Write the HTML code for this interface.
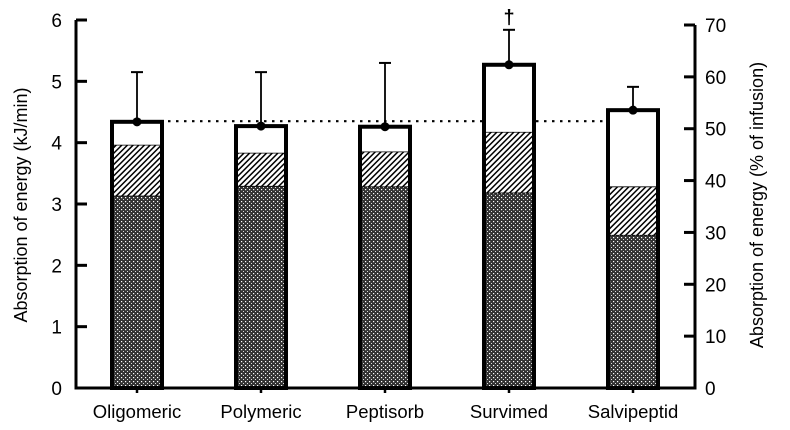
<!DOCTYPE html>
<html><head><meta charset="utf-8"><style>
html,body{margin:0;padding:0;background:#fff;}
svg{display:block;font-family:"Liberation Sans",Arial,sans-serif;}
</style></head><body>
<svg id="chart" width="790" height="430" viewBox="0 0 790 430" xmlns="http://www.w3.org/2000/svg">
<defs>
<pattern id="hatch" patternUnits="userSpaceOnUse" width="4" height="4" patternTransform="rotate(45)">
<rect width="4" height="4" fill="#fff"/><rect x="0" y="0" width="1.5" height="4" fill="#000"/>
</pattern>
<pattern id="cross" patternUnits="userSpaceOnUse" width="4" height="4">
<rect width="4" height="4" fill="#333"/><rect x="1" y="1" width="1.2" height="1.2" fill="#fff"/><rect x="3" y="3" width="1" height="1" fill="#ddd"/>
</pattern>
</defs>
<g id="marks"></g>
</svg>
<script>
const categories = ["Oligomeric","Polymeric","Peptisorb","Survimed","Salvipeptid"];
const totalValues = [4.34, 4.27, 4.26, 5.27, 4.53];
const hatchValues = [3.96, 3.83, 3.85, 4.17, 3.28];
const crossValues = [3.13, 3.29, 3.28, 3.18, 2.49];
const errorTops = [5.15, 5.15, 5.30, 5.84, 4.91];
const referenceLine = 4.35;
const leftTicks = [0,1,2,3,4,5,6];
const rightTicks = [0,10,20,30,40,50,60,70];
const daggerIndex = 3;

const NS = "http://www.w3.org/2000/svg";
const g = document.getElementById("marks");
const y0 = 388, yTop = 20, leftMax = 6;
const yR0 = 388, yRTop = 25, rightMax = 70;
const xL = 76, xR = 695;
const firstCenter = 137, step = 124, barW = 50;
function y(v){ return y0 - v*(y0-yTop)/leftMax; }
function yr(v){ return yR0 - v*(yR0-yRTop)/rightMax; }
function xc(i){ return firstCenter + i*step; }
function el(tag, attrs, parent){
  const e = document.createElementNS(NS, tag);
  for (const k in attrs) e.setAttribute(k, attrs[k]);
  (parent||g).appendChild(e);
  return e;
}

const ref = el("line",{x1:xc(0)-barW/2, x2:xc(4)+barW/2-18, y1:y(referenceLine), y2:y(referenceLine), stroke:"#000","stroke-width":2.2,"stroke-dasharray":"2.5,5.5"});



categories.forEach((c,i)=>{
  const x = xc(i)-barW/2;
  const grp = el("g",{});
  
  
  el("rect",{x:x,y:y(totalValues[i]),width:barW,height:y0-y(totalValues[i]),fill:"#fff"},grp);
  el("rect",{x:x,y:y(hatchValues[i]),width:barW,height:y(crossValues[i])-y(hatchValues[i]),fill:"url(#hatch)"},grp);
  el("rect",{x:x,y:y(crossValues[i]),width:barW,height:y0-y(crossValues[i]),fill:"url(#cross)"},grp);
  el("line",{x1:x,x2:x+barW,y1:y(hatchValues[i]),y2:y(hatchValues[i]),stroke:"#000","stroke-width":0.8},grp);
  el("line",{x1:x,x2:x+barW,y1:y(crossValues[i]),y2:y(crossValues[i]),stroke:"#000","stroke-width":0.8},grp);
  el("rect",{x:x,y:y(totalValues[i]),width:barW,height:y0-y(totalValues[i]),fill:"none",stroke:"#000","stroke-width":4},grp);
  const err = el("g",{});
  
  
  el("line",{x1:xc(i),x2:xc(i),y1:y(totalValues[i]),y2:y(errorTops[i]),stroke:"#000","stroke-width":1.8},err);
  el("line",{x1:xc(i)-6,x2:xc(i)+6,y1:y(errorTops[i]),y2:y(errorTops[i]),stroke:"#000","stroke-width":2},err);
  const pt = el("circle",{cx:xc(i),cy:y(totalValues[i]),r:4.5,fill:"#000"});
  
  
  const tk = el("line",{x1:xc(i),x2:xc(i),y1:y0,y2:y0+5,stroke:"#000","stroke-width":2.5});
  
  
  const lb = el("text",{x:xc(i),y:418,"text-anchor":"middle","font-size":18.5});
  lb.textContent = c;
  
  
  if (i===daggerIndex){
    const d = el("text",{x:xc(i),y:y(errorTops[i])-6,"text-anchor":"middle","font-size":20,"font-weight":"bold"});
    d.textContent = "†";
    
    
  }
});

const xa = el("line",{x1:xL-1.5,x2:xR+1.5,y1:y0,y2:y0,stroke:"#000","stroke-width":3});


const la = el("line",{x1:xL,x2:xL,y1:yTop,y2:y0,stroke:"#000","stroke-width":3});


const ra = el("line",{x1:xR,x2:xR,y1:yRTop,y2:yR0,stroke:"#000","stroke-width":3});



leftTicks.forEach(t=>{
  const l = el("line",{x1:xL,x2:xL+11,y1:y(t),y2:y(t),stroke:"#000","stroke-width":3});
  
  
  const tx = el("text",{x:62,y:y(t)+7,"text-anchor":"end","font-size":19});
  tx.textContent = t;
  
  
});
rightTicks.forEach(t=>{
  const l = el("line",{x1:xR-11,x2:xR,y1:yr(t),y2:yr(t),stroke:"#000","stroke-width":3});
  
  
  const tx = el("text",{x:705,y:yr(t)+7,"text-anchor":"start","font-size":19});
  tx.textContent = t;
  
  
});
const lt = el("text",{x:0,y:0,"text-anchor":"middle","font-size":18,transform:"translate(27,205) rotate(-90)"});
lt.textContent = "Absorption of energy (kJ/min)";


const rt = el("text",{x:0,y:0,"text-anchor":"middle","font-size":18,transform:"translate(763,205) rotate(-90)"});
rt.textContent = "Absorption of energy (% of infusion)";


</script>
</body></html>
